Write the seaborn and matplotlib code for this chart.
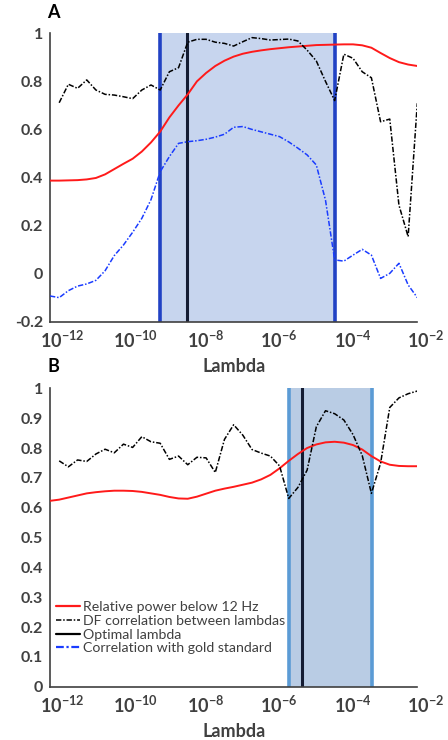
import matplotlib
matplotlib.use("Agg")
import matplotlib.pyplot as plt
import matplotlib.transforms as mtransforms
from matplotlib.lines import Line2D
import seaborn as sns
import numpy as np

# log10(lambda) grid, quarter-decade steps
log_lambda = [-12.0, -11.75, -11.5, -11.25, -11.0, -10.75, -10.5, -10.25, -10.0,
              -9.75, -9.5, -9.25, -9.0, -8.75, -8.5, -8.25, -8.0, -7.75, -7.5,
              -7.25, -7.0, -6.75, -6.5, -6.25, -6.0, -5.75, -5.5, -5.25, -5.0,
              -4.75, -4.5, -4.25, -4.0, -3.75, -3.5, -3.25, -3.0, -2.75, -2.5,
              -2.25, -2.0]

# panel A
power_a = [0.387, 0.387, 0.388, 0.389, 0.392, 0.398, 0.413, 0.435, 0.457, 0.478,
           0.508, 0.546, 0.591, 0.650, 0.700, 0.746, 0.800, 0.835, 0.864, 0.886,
           0.903, 0.915, 0.923, 0.929, 0.934, 0.938, 0.942, 0.945, 0.948, 0.951,
           0.952, 0.953, 0.954, 0.954, 0.950, 0.940, 0.918, 0.897, 0.880, 0.870,
           0.864]
dfcorr_a = [0.711, 0.788, 0.771, 0.806, 0.764, 0.746, 0.743, 0.736, 0.728, 0.764,
            0.785, 0.764, 0.840, 0.857, 0.963, 0.975, 0.975, 0.963, 0.958, 0.947,
            0.965, 0.982, 0.978, 0.972, 0.974, 0.976, 0.968, 0.930, 0.885, 0.800,
            0.720, 0.913, 0.896, 0.840, 0.815, 0.632, 0.643, 0.285, 0.154, 0.709]
gold_a = [-0.093, -0.100, -0.071, -0.052, -0.043, -0.028, 0.012, 0.075, 0.119, 0.172,
          0.230, 0.308, 0.424, 0.487, 0.542, 0.549, 0.553, 0.559, 0.568, 0.580,
          0.609, 0.612, 0.600, 0.590, 0.580, 0.570, 0.548, 0.522, 0.494, 0.452,
          0.306, 0.057, 0.052, 0.077, 0.101, 0.077, -0.020, 0.001, 0.043, -0.047,
          -0.100]
range_a = [-9.0, -4.23]
optimal_a = -8.26

# panel B
power_b = [0.623, 0.627, 0.634, 0.641, 0.648, 0.652, 0.655, 0.657, 0.657, 0.656,
           0.653, 0.648, 0.643, 0.636, 0.631, 0.630, 0.637, 0.647, 0.657, 0.664,
           0.670, 0.677, 0.684, 0.695, 0.710, 0.732, 0.757, 0.780, 0.800, 0.812,
           0.819, 0.821, 0.818, 0.810, 0.795, 0.773, 0.755, 0.744, 0.740, 0.739,
           0.739]
dfcorr_b = [0.757, 0.737, 0.760, 0.755, 0.780, 0.796, 0.784, 0.813, 0.802, 0.838,
            0.821, 0.816, 0.762, 0.773, 0.744, 0.769, 0.767, 0.718, 0.829, 0.878,
            0.843, 0.795, 0.783, 0.773, 0.740, 0.631, 0.668, 0.726, 0.871, 0.925,
            0.915, 0.894, 0.845, 0.775, 0.648, 0.749, 0.936, 0.968, 0.982, 0.991]
range_b = [-5.50, -3.23]
optimal_b = -5.13

x_ticks = [-12, -10, -8, -6, -4, -2]
yticks_a = ['-0.2', '0', '0.2', '0.4', '0.6', '0.8', '1']
yticks_b = ['0', '0.1', '0.2', '0.3', '0.4', '0.5', '0.6', '0.7', '0.8', '0.9', '1']

legend_labels = ['Relative power below 12 Hz', 'DF correlation between lambdas',
                 'Optimal lambda', 'Correlation with gold standard']

sns.set_style('white')
plt.rcParams['font.family'] = ['Lato', 'DejaVu Sans']
plt.rcParams['mathtext.fontset'] = 'custom'
plt.rcParams['mathtext.rm'] = 'Lato'
plt.rcParams['mathtext.bf'] = 'Lato:bold'
plt.rcParams['axes.unicode_minus'] = False

TXT = '#404040'
DASH = (0, (3.5, 1.2, 1, 1.2))

fig = plt.figure(figsize=(4.48, 7.4), dpi=100)
ax_a = fig.add_axes([0.1116, 0.5653, 0.8199, 0.3897])
ax_b = fig.add_axes([0.1116, 0.0720, 0.8199, 0.4032])

lam = [10 ** e for e in log_lambda]


def style_axes(ax, ylo, yhi, ylabels):
    ax.set_xscale('log')
    ax.set_xlim(1e-12, 1e-2)
    ax.set_ylim(ylo, yhi)
    ax.set_xticks([10.0 ** t for t in x_ticks])
    ax.set_xticklabels([r'$\mathbf{10^{%d}}$' % t for t in x_ticks])
    ax.set_yticks(np.linspace(ylo, yhi, len(ylabels)))
    ax.set_yticklabels(ylabels)
    for s in ['top', 'right']:
        ax.spines[s].set_visible(False)
    for s in ['left', 'bottom']:
        ax.spines[s].set_color('#404040')
        ax.spines[s].set_linewidth(1.2)
    ax.tick_params(axis='both', which='major', direction='in', length=3,
                   width=1, color='#404040', labelsize=11.5, labelcolor=TXT)
    ax.tick_params(axis='x', which='minor', direction='in', length=2,
                   width=0.8, color='#404040')
    ax.tick_params(axis='y', which='minor', left=False)
    ax.tick_params(axis='x', pad=6)
    ax.tick_params(axis='y', pad=5)
    for lab in ax.get_yticklabels():
        lab.set_fontweight('bold')
    offset = mtransforms.ScaledTranslation(-10 / 100, 0, fig.dpi_scale_trans)
    for lab in ax.get_xticklabels():
        lab.set_horizontalalignment('left')
        lab.set_transform(lab.get_transform() + offset)
        lab.set_fontsize(13)
    ax.set_xlabel('Lambda', fontsize=13, fontweight='bold', color=TXT, labelpad=5)
    ax.set_ylabel('')


# panel A
ax_a.axvspan(10 ** range_a[0], 10 ** range_a[1], color='#c7d5ee', zorder=0, lw=0)
for e in range_a:
    ax_a.axvline(10 ** e, color='#2142c4', lw=2.6, zorder=1)
ax_a.axvline(10 ** optimal_a, color='#141c33', lw=2.2, zorder=1)
sns.lineplot(x=lam, y=power_a, ax=ax_a, color='#ff1a1a', lw=1.4, zorder=3)
sns.lineplot(x=lam[1:], y=dfcorr_a, ax=ax_a, color='black', lw=1.1,
             linestyle=DASH, zorder=3)
sns.lineplot(x=lam, y=gold_a, ax=ax_a, color='#1a3cff', lw=1.1,
             linestyle=DASH, zorder=3)
style_axes(ax_a, -0.2, 1.0, yticks_a)

# panel B
ax_b.axvspan(10 ** range_b[0], 10 ** range_b[1], color='#b9cce4', zorder=0, lw=0)
for e in range_b:
    ax_b.axvline(10 ** e, color='#5b9bd5', lw=2.6, zorder=1)
ax_b.axvline(10 ** optimal_b, color='#141c33', lw=2.2, zorder=1)
sns.lineplot(x=lam, y=power_b, ax=ax_b, color='#ff1a1a', lw=1.4, zorder=3)
sns.lineplot(x=lam[1:], y=dfcorr_b, ax=ax_b, color='black', lw=1.1,
             linestyle=DASH, zorder=3)
style_axes(ax_b, 0.0, 1.0, yticks_b)

handles = [Line2D([], [], color='#ff1a1a', lw=1.6),
           Line2D([], [], color='black', lw=1.1, linestyle=DASH),
           Line2D([], [], color='black', lw=1.6),
           Line2D([], [], color='#1a3cff', lw=1.6, linestyle=DASH)]
leg = ax_b.legend(handles, legend_labels, loc='lower left',
                  bbox_to_anchor=(0.0, 0.09), frameon=False, fontsize=10.2,
                  handlelength=1.7, handletextpad=0.2, labelspacing=0.12,
                  borderaxespad=0)
for t in leg.get_texts():
    t.set_color(TXT)

fig.text(53 / 448, 1 - 13 / 740, 'A', fontsize=13, fontweight='bold',
         ha='center', va='center', color='black')
fig.text(53 / 448, 1 - 366 / 740, 'B', fontsize=13, fontweight='bold',
         ha='center', va='center', color='black')

fig.savefig('out.png', dpi=100)
